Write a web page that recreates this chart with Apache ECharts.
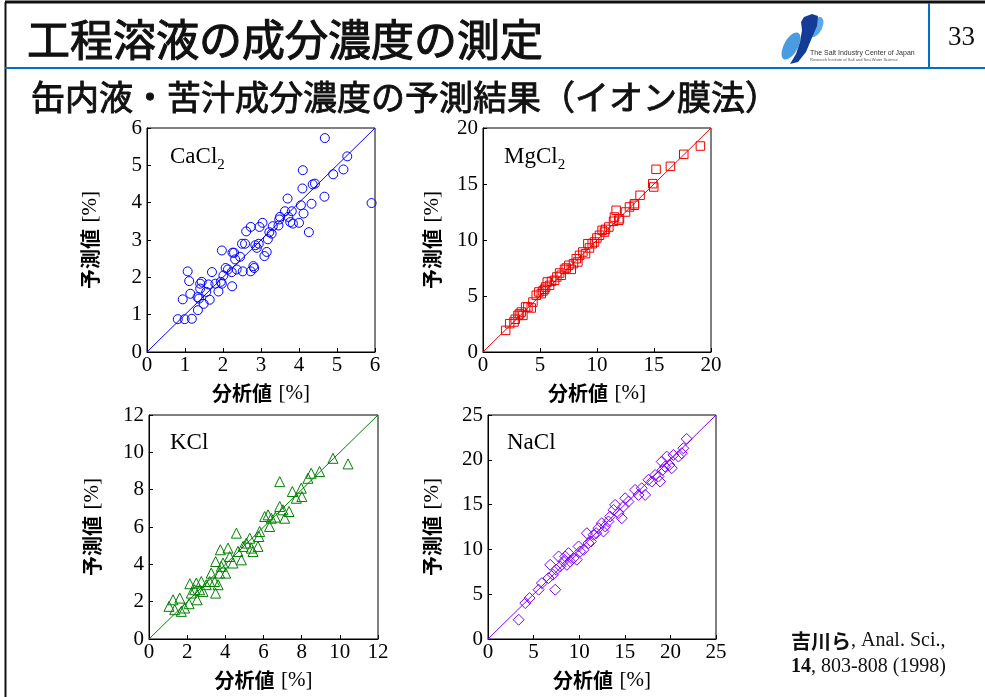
<!DOCTYPE html>
<html>
<head>
<meta charset="utf-8">
<script src="https://cdn.jsdelivr.net/npm/echarts@6/dist/echarts.min.js"></script>
<style>
  html, body { margin: 0; padding: 0; background: #fff; }
  #chart { width: 985px; height: 697px; }
</style>
</head>
<body>
<div id="chart"></div>
<script>
// Analysed value (x) vs predicted value (y), in %, for each component
const caCl2 = [
  [0.81,0.88],[0.99,0.88],[1.18,0.89],[0.94,1.41],[1.07,2.16],[1.11,1.90],[1.14,1.56],[1.34,1.12],
  [1.33,1.47],[1.37,1.43],[1.40,1.83],[1.44,1.88],[1.40,1.70],[1.49,1.29],[1.56,1.61],[1.62,1.81],
  [1.65,1.40],[1.71,2.14],[1.80,1.83],[1.88,1.62],[1.94,1.88],[1.97,1.83],[1.97,2.72],[2.01,2.05],
  [2.07,2.25],[2.13,2.21],[2.23,2.14],[2.24,1.76],[2.25,2.66],[2.29,2.66],[2.32,2.48],[2.36,2.21],
  [2.45,2.55],[2.50,2.90],[2.52,2.16],[2.58,2.90],[2.61,3.23],[2.73,3.35],[2.73,2.16],[2.80,2.30],
  [2.82,2.25],[2.85,2.86],[2.89,2.79],[2.94,2.90],[2.96,3.35],[3.04,3.46],[3.09,2.57],[3.15,2.68],
  [3.18,3.02],[3.22,3.21],[3.28,3.17],[3.31,3.37],[3.46,3.39],[3.48,3.55],[3.50,3.62],[3.63,3.77],
  [3.70,4.11],[3.72,3.62],[3.77,3.48],[3.81,3.77],[3.84,3.44],[4.00,3.46],[4.05,3.93],[4.09,4.38],
  [4.10,4.87],[4.12,3.71],[4.26,3.21],[4.33,3.97],[4.36,4.49],[4.42,4.51],[4.67,4.16],[4.68,5.73],
  [4.90,4.76],[5.17,4.89],[5.27,5.24],[5.91,3.99]
];
const mgCl2 = [
  [1.99,1.93],[2.34,2.53],[2.72,2.68],[2.83,2.92],[3.07,3.27],[3.20,3.40],[3.36,3.57],[3.50,3.27],
  [3.74,4.02],[3.94,4.02],[4.23,3.93],[4.38,4.46],[4.67,5.06],[4.90,5.36],[5.11,5.21],[5.26,5.45],
  [5.40,5.60],[5.49,5.80],[5.64,6.25],[5.84,5.95],[6.01,6.31],[6.28,6.40],[6.48,6.70],[6.72,7.05],
  [6.86,6.85],[7.15,7.38],[7.30,7.50],[7.53,7.74],[7.74,7.38],[7.94,7.89],[8.18,8.33],[8.32,8.04],
  [8.47,8.63],[8.76,8.93],[8.99,8.78],[9.20,9.67],[9.34,9.29],[9.58,9.67],[9.78,9.82],[9.99,10.18],
  [10.22,10.42],[10.45,10.86],[10.66,10.71],[10.74,10.95],[11.04,11.16],[11.45,11.67],[11.53,12.05],
  [11.68,12.65],[11.91,11.76],[11.97,11.90],[12.50,12.50],[12.85,12.95],[13.28,13.24],[13.28,13.10],
  [13.78,13.99],[14.89,15.03],[14.98,14.73],[15.18,16.31],[16.44,16.58],[17.61,17.65],[19.07,18.39]
];
const kCl = [
  [1.05,1.75],[1.26,2.10],[1.35,1.57],[1.61,2.19],[1.69,1.48],[1.87,1.66],[2.10,1.89],[2.14,2.96],
  [2.22,2.46],[2.39,2.64],[2.48,3.00],[2.52,2.10],[2.65,2.64],[2.74,3.08],[2.83,2.55],[3.00,2.91],
  [3.18,3.08],[3.26,3.53],[3.44,3.08],[3.49,2.46],[3.49,4.15],[3.62,2.91],[3.70,3.53],[3.74,4.78],
  [3.79,3.89],[3.88,4.07],[4.02,3.53],[4.14,4.87],[4.23,4.42],[4.40,4.07],[4.58,5.67],[4.66,4.69],
  [4.84,4.24],[4.93,4.96],[5.10,5.14],[5.28,5.40],[5.36,4.87],[5.45,4.69],[5.71,4.96],[5.76,5.49],
  [5.80,5.76],[6.06,6.56],[6.24,6.65],[6.32,6.03],[6.41,6.47],[6.62,6.53],[6.85,8.43],[6.85,7.10],
  [7.02,6.92],[7.11,6.47],[7.34,6.83],[7.51,7.90],[7.72,7.54],[7.98,8.08],[8.01,7.63],[8.33,8.61],
  [8.50,8.88],[8.94,8.97],[9.64,9.68],[10.43,9.38]
];
const naCl = [
  [3.36,2.15],[4.09,4.01],[4.56,4.57],[5.55,5.50],[5.91,6.24],[6.64,6.80],[6.82,8.28],[7.12,7.17],
  [7.37,5.50],[7.48,7.73],[7.74,9.21],[7.92,8.10],[8.28,8.66],[8.47,9.21],[8.65,8.28],[8.83,9.58],
  [9.01,8.66],[9.38,9.03],[9.74,8.84],[9.93,10.33],[10.11,9.77],[10.47,9.96],[10.84,11.81],[11.02,10.70],
  [11.28,10.88],[11.57,11.63],[11.86,11.81],[12.12,12.37],[12.48,12.93],[12.66,12.00],[12.85,12.56],
  [13.21,13.12],[13.39,13.67],[13.76,14.41],[13.94,14.97],[14.31,14.04],[14.67,13.48],[14.85,14.78],
  [15.04,15.71],[15.40,15.34],[16.13,16.64],[16.50,16.08],[16.86,16.83],[17.23,16.08],[17.59,17.76],
  [17.96,17.57],[18.32,18.31],[18.69,18.13],[18.87,17.57],[19.05,19.80],[19.16,18.87],[19.42,19.24],
  [19.60,20.36],[19.89,19.43],[20.15,19.06],[20.33,20.54],[20.88,20.36],[21.24,20.73],[21.42,21.29],
  [21.79,22.33]
];

// Axis ranges and tick steps per panel
const axisMax = [6, 20, 12, 25];
const axisStep = [1, 5, 2, 5];
const panelNames = ['CaCl2', 'MgCl2', 'KCl', 'NaCl'];
const xAxisTitle = '分析値';
const yAxisTitle = '予測値';
const unitText = '[%]';

const panelData = [caCl2, mgCl2, kCl, naCl];
const colors = ['#0000ff', '#ee0000', '#008000', '#8000ff'];
const symbols = ['circle', 'rect', 'triangle', 'diamond'];
const symbolSizes = [9, 8.5, 10, 11];
const grids = [
  { left: 147, top: 128, width: 228, height: 224 },
  { left: 483, top: 128, width: 228, height: 224 },
  { left: 149, top: 415, width: 229, height: 224 },
  { left: 488, top: 415, width: 228, height: 224 }
];
const yNameGap = [46, 40, 46, 45];

const serif = '"Liberation Serif", "Times New Roman", serif';
const gothic = '"Noto Sans CJK JP", sans-serif';

const nameRich = {
  g: { fontFamily: gothic, fontSize: 20, fontWeight: 'bold', color: '#000' },
  u: { fontFamily: serif, fontSize: 21, color: '#000' }
};

const option = {
  backgroundColor: '#fff',
  animation: false,
  grid: grids.map(g => Object.assign({ show: true, borderColor: '#000', borderWidth: 1 }, g)),
  xAxis: grids.map((g, i) => ({
    type: 'value', gridIndex: i, min: 0, max: axisMax[i], interval: axisStep[i],
    axisLine: { show: true, lineStyle: { color: '#000', width: 1 } },
    axisTick: { show: true, inside: true, length: 4, lineStyle: { color: '#000' } },
    splitLine: { show: false },
    axisLabel: { fontFamily: serif, fontSize: 21, color: '#000', margin: 3 },
    name: '{g|' + xAxisTitle + '}  {u|' + unitText + '}',
    nameLocation: 'middle', nameGap: 31,
    nameTextStyle: { rich: nameRich }
  })),
  yAxis: grids.map((g, i) => ({
    type: 'value', gridIndex: i, min: 0, max: axisMax[i], interval: axisStep[i],
    axisLine: { show: true, lineStyle: { color: '#000', width: 1 } },
    axisTick: { show: true, inside: true, length: 4, lineStyle: { color: '#000' } },
    splitLine: { show: false },
    axisLabel: { fontFamily: serif, fontSize: 21, color: '#000', margin: 5 },
    name: '{g|' + yAxisTitle + '}  {u|' + unitText + '}',
    nameLocation: 'middle', nameGap: yNameGap[i],
    nameTextStyle: { rich: nameRich }
  })),
  series: []
};

panelData.forEach((d, i) => {
  // 1:1 reference line
  option.series.push({
    type: 'line', xAxisIndex: i, yAxisIndex: i,
    data: [[0, 0], [axisMax[i], axisMax[i]]],
    showSymbol: false, symbol: 'none',
    lineStyle: { color: colors[i], width: 1 },
    silent: true, z: 2
  });
  option.series.push({
    type: 'scatter', xAxisIndex: i, yAxisIndex: i, name: panelNames[i],
    data: d, symbol: symbols[i], symbolSize: symbolSizes[i],
    itemStyle: { color: 'rgba(0,0,0,0)', borderColor: colors[i], borderWidth: 1, opacity: 1 },
    z: 3
  });
});

// Panel labels with subscripts
const labelRich = {
  a: { fontFamily: serif, fontSize: 23, color: '#000', lineHeight: 32, verticalAlign: 'middle' },
  s: { fontFamily: serif, fontSize: 15, color: '#000', lineHeight: 32, verticalAlign: 'bottom' }
};
const panelLabels = [
  { x: 170, y: 157, text: '{a|CaCl}{s|2}' },
  { x: 504, y: 157, text: '{a|MgCl}{s|2}' },
  { x: 170, y: 443, text: '{a|KCl}' },
  { x: 507, y: 443, text: '{a|NaCl}' }
];

option.graphic = [
  // page frame
  { type: 'line', shape: { x1: 5, y1: 2, x2: 985, y2: 2 }, style: { stroke: '#111', lineWidth: 3 } },
  { type: 'line', shape: { x1: 5.5, y1: 2, x2: 5.5, y2: 697 }, style: { stroke: '#111', lineWidth: 2 } },
  { type: 'line', shape: { x1: 5, y1: 68, x2: 985, y2: 68 }, style: { stroke: '#0070c0', lineWidth: 2 } },
  { type: 'line', shape: { x1: 929, y1: 3, x2: 929, y2: 68 }, style: { stroke: '#0070c0', lineWidth: 2 } },
  // headings (regular weight thickened slightly with a thin outline)
  { type: 'text', x: 27, y: 18, style: { text: '工程溶液の成分濃度の測定', font: '43px ' + gothic, fill: '#111', stroke: '#111', lineWidth: 1.1 } },
  { type: 'text', x: 31, y: 80, style: { text: '缶内液・苦汁成分濃度の予測結果（イオン膜法）', font: '34px ' + gothic, fill: '#111', stroke: '#111', lineWidth: 0.9 } },
  { type: 'text', x: 948, y: 24, style: { text: '33', font: '27px ' + serif, fill: '#111' } },
  // emblem
  { type: 'ellipse', shape: { cx: 791, cy: 46, rx: 7, ry: 15 }, rotation: -0.5, originX: 791, originY: 46, style: { fill: '#4a9be0' } },
  { type: 'ellipse', shape: { cx: 816, cy: 27, rx: 6, ry: 11 }, rotation: -0.5, originX: 816, originY: 27, style: { fill: '#5aa8ea' } },
  { type: 'polygon', shape: { points: [[804,17],[812,14],[818,16],[817,26],[811,40],[806,52],[798,62],[790,64],[796,54],[800,42],[802,30],[801,22]] }, style: { fill: '#123c96' } },
  { type: 'text', x: 810, y: 50, style: { text: 'The Salt Industry Center of Japan', font: '7px "Liberation Sans", sans-serif', fill: '#333' } },
  { type: 'text', x: 810, y: 58, style: { text: 'Research Institute of Salt and Sea Water Science', font: '4px "Liberation Sans", sans-serif', fill: '#555' } },
  // citation
  { type: 'text', x: 791, y: 628, style: { text: '{j|吉川ら}{r|, Anal. Sci.,}\n{b|14}{r|, 803-808 (1998)}', rich: {
      j: { font: 'bold 20px ' + gothic, fill: '#111', lineHeight: 26 },
      r: { font: '20px ' + serif, fill: '#111', lineHeight: 26 },
      b: { font: 'bold 20px ' + serif, fill: '#111', lineHeight: 26 } } } }
].concat(panelLabels.map(p => ({
  type: 'text', x: p.x, y: p.y - 16,
  style: { text: p.text, rich: labelRich }
})));

const chart = echarts.init(document.getElementById('chart'), null, { renderer: 'canvas' });
chart.setOption(option);
</script>
</body>
</html>
